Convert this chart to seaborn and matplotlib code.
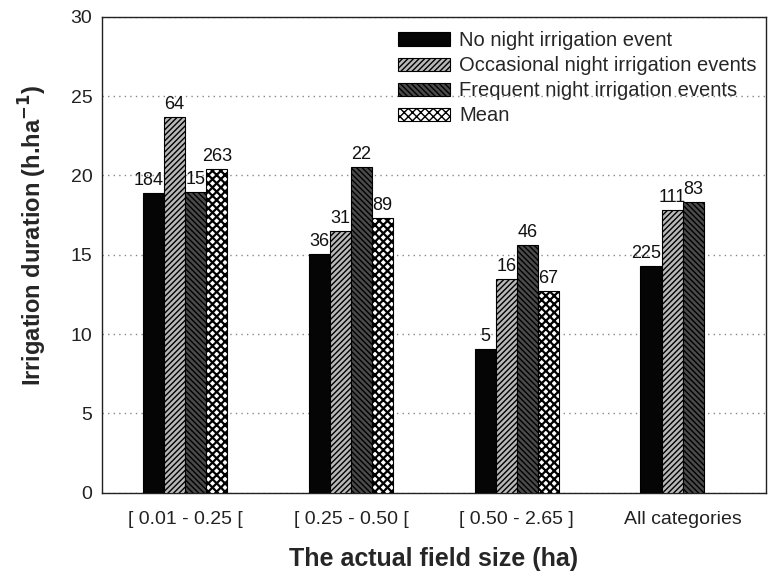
import numpy as np
import pandas as pd
import matplotlib
matplotlib.use("Agg")
import matplotlib.pyplot as plt
import seaborn as sns

# Dados
categorias = ["[ 0.01 - 0.25 [", "[ 0.25 - 0.50 [", "[ 0.50 - 2.65 ]", "All categories"]
series = ["No night irrigation event", "Occasional night irrigation events",
          "Frequent night irrigation events", "Mean"]

no_night = [18.9, 15.05, 9.05, 14.3]
ocasional = [23.7, 16.5, 13.45, 17.8]
frequente = [18.95, 20.55, 15.6, 18.3]
media = [20.4, 17.3, 12.7]          # sem média para "All categories"

n_no_night = [184, 36, 5, 225]
n_ocasional = [64, 31, 16, 111]
n_frequente = [15, 22, 46, 83]
n_media = [263, 89, 67]

# ----------------------------
# Montar DataFrame longo
# ----------------------------
linhas = []
for serie, valores, contagens in zip(series,
                                     [no_night, ocasional, frequente, media],
                                     [n_no_night, n_ocasional, n_frequente, n_media]):
    for cat, v, n in zip(categorias, valores, contagens):
        linhas.append({"Categoria": cat, "Serie": serie, "Valor": v, "N": n})
df = pd.DataFrame(linhas)

# Estilo de cada série: (cor de fundo, hachura, cor da hachura, espessura)
estilos = {
    "No night irrigation event": ("#050505", "", "#050505", 1.0),
    "Occasional night irrigation events": ("#b8b8b8", "//////", "#444444", 1.0),
    "Frequent night irrigation events": ("#4a4a4a", "\\\\\\\\\\\\", "#111111", 1.0),
    "Mean": ("#ffffff", "xxxx", "#5a5a5a", 1.6),
}

sns.set_style("white")
plt.rcParams["font.family"] = ["Liberation Sans", "DejaVu Sans"]
plt.rcParams["hatch.linewidth"] = 1.0

fig = plt.figure(figsize=(7.68, 5.79), dpi=100)
ax = fig.add_axes([0.133, 0.149, 0.864, 0.822])

sns.barplot(data=df, x="Categoria", y="Valor", hue="Serie",
            order=categorias, hue_order=series,
            palette=[estilos[s][0] for s in series], saturation=1,
            width=0.51, gap=0, edgecolor="black", linewidth=0.8,
            legend=False, ax=ax, zorder=3)

# Aplicar hachuras e guardar barras por (categoria, série)
barras = {}
for serie, cont in zip(series, ax.containers):
    face, hatch, hcol, hlw = estilos[serie]
    for bar in cont:
        bar.set_hatch(hatch)
        if hasattr(bar, "set_hatchcolor"):
            bar.set_hatchcolor(hcol)
        if hasattr(bar, "set_hatch_linewidth"):
            bar.set_hatch_linewidth(hlw)
        bar.set_edgecolor("black")
        cat_idx = int(round(bar.get_x() + bar.get_width() / 2))
        barras[(cat_idx, serie)] = bar

# Rótulos com o número de observações
for _, row in df.iterrows():
    ci = categorias.index(row["Categoria"])
    si = series.index(row["Serie"])
    bar = barras[(ci, row["Serie"])]
    top = bar.get_height()
    vizinho = barras.get((ci, series[si + 1])) if si + 1 < len(series) else None
    label = str(row["N"])
    if vizinho is not None and vizinho.get_height() > top + 1 and len(label) >= 3:
        x, ha = bar.get_x() + bar.get_width(), "right"
    else:
        x, ha = bar.get_x() + bar.get_width() / 2, "center"
    ax.annotate(label, (x, top), xytext=(0, 3), textcoords="offset points",
                ha=ha, va="bottom", fontsize=13, color="#111111")

ax.set_ylim(0, 30)
ax.set_xlim(-0.5, 3.5)
ax.set_yticks(range(0, 31, 5))
ax.yaxis.grid(True, linestyle=(0, (1, 3)), color="#888888", linewidth=1)
ax.set_axisbelow(True)
ax.tick_params(axis="both", length=0, labelsize=14, colors="#222222")
ax.tick_params(axis="y", pad=7)
ax.tick_params(axis="x", pad=13)
for s in ax.spines.values():
    s.set_visible(True)
    s.set_color("#222222")
    s.set_linewidth(1.0)

ax.set_xlabel("The actual field size (ha)", fontsize=18, fontweight="bold", labelpad=14)
ax.set_ylabel("Irrigation duration (h.ha$^{\\mathbf{-1}}$)", fontsize=17,
              fontweight="bold")
ax.yaxis.set_label_coords(-0.08, 0.54)

handles = [ax.containers[i][0] for i in range(len(series))]
ax.legend(handles, series, loc="upper right", bbox_to_anchor=(1.005, 0.995),
          frameon=False, fontsize=14.5, handlelength=2.6, handleheight=0.65,
          handletextpad=0.45, labelspacing=0.3, borderaxespad=0.2)

fig.savefig("out.png", dpi=100)
